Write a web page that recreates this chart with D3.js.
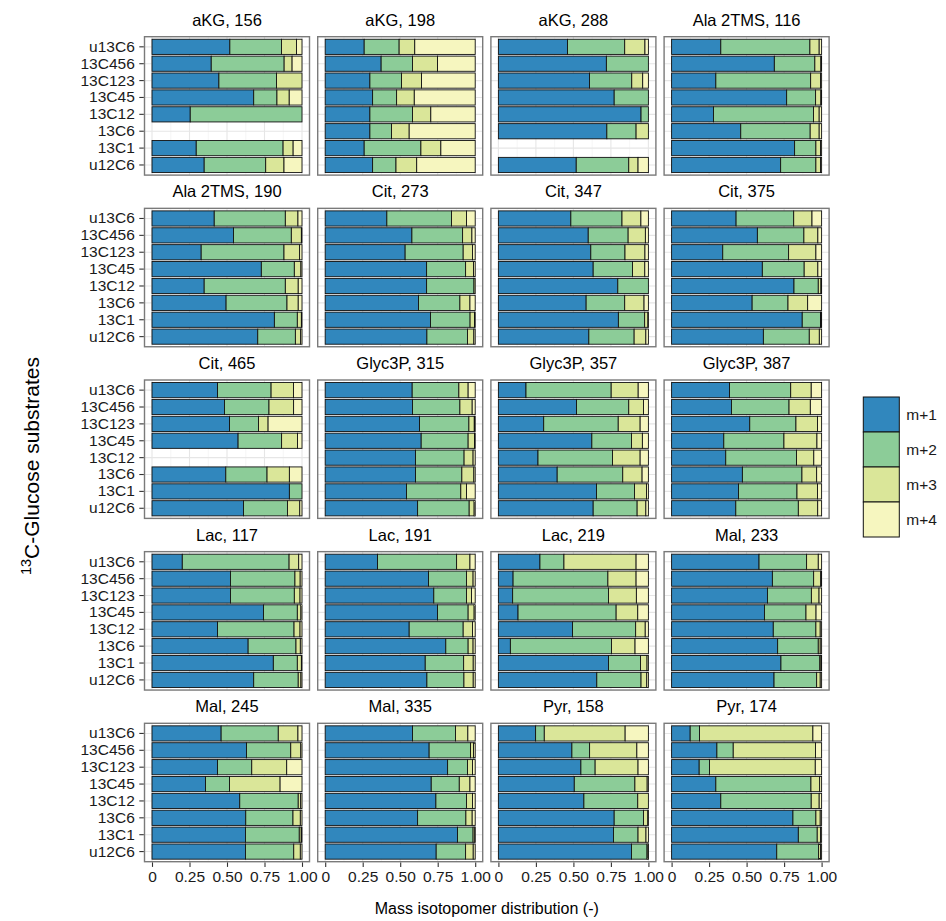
<!DOCTYPE html>
<html>
<head>
<meta charset="utf-8">
<script src="https://cdn.jsdelivr.net/npm/d3@7"></script>
<style>
  html, body { margin: 0; padding: 0; background: #fff; }
  svg { display: block; font-family: "Liberation Sans", Arial, Helvetica, sans-serif; }
</style>
</head>
<body>
<script>
// Labelling substrates, top to bottom in every panel
const categories = ["u13C6", "13C456", "13C123", "13C45", "13C12", "13C6", "13C1", "u12C6"];
const isotopomers = ["m+1", "m+2", "m+3", "m+4"];
const fills = ["#3187bd", "#8ccc98", "#dae699", "#f6f6bf"];
const xTickValues = [0, 0.25, 0.5, 0.75, 1];
const xTickLabels = ["0", "0.25", "0.50", "0.75", "1.00"];

// Fractions [m+1, m+2, m+3, m+4] per substrate (null = not measured)
const aKG_156 = [[0.519,0.344,0.100,0.037],[0.395,0.486,0.053,0.066],[0.446,0.384,0.170,0.000],[0.678,0.155,0.082,0.085],[0.255,0.745,0,0],null,[0.295,0.579,0.067,0.059],[0.348,0.410,0.122,0.120]];
const aKG_198 = [[0.260,0.233,0.104,0.403],[0.373,0.209,0.167,0.251],[0.298,0.211,0.133,0.358],[0.316,0.160,0.118,0.406],[0.298,0.284,0.122,0.296],[0.298,0.144,0.118,0.440],[0.260,0.378,0.133,0.229],[0.316,0.156,0.138,0.390]];
const aKG_288 = [[0.461,0.381,0.135,0.023],[0.720,0.280,0,0],[0.607,0.282,0.073,0.038],[0.772,0.228,0,0],[0.951,0.049,0,0],[0.723,0.195,0.082,0],null,[0.519,0.350,0.062,0.069]];
const Ala2TMS_116 = [[0.328,0.594,0.062,0.016],[0.685,0.270,0.040,0.005],[0.295,0.632,0.066,0.007],[0.767,0.193,0.035,0.005],[0.279,0.667,0.038,0.016],[0.461,0.463,0.060,0.016],[0.820,0.142,0.031,0.007],[0.727,0.235,0.031,0.007]];
const Ala2TMS_190 = [[0.415,0.474,0.084,0.027],[0.543,0.386,0.067,0.004],[0.328,0.552,0.104,0.016],[0.729,0.220,0.044,0.007],[0.348,0.541,0.086,0.025],[0.494,0.406,0.075,0.025],[0.816,0.153,0.027,0.004],[0.705,0.251,0.035,0.009]];
const Cit_273 = [[0.411,0.431,0.100,0.058],[0.578,0.338,0.062,0.022],[0.533,0.387,0.062,0.018],[0.676,0.260,0.053,0.011],[0.676,0.316,0.008,0],[0.622,0.276,0.067,0.035],[0.702,0.264,0.029,0.005],[0.678,0.271,0.042,0.009]];
const Cit_347 = [[0.483,0.341,0.126,0.050],[0.599,0.266,0.115,0.020],[0.616,0.228,0.133,0.023],[0.632,0.262,0.082,0.024],[0.796,0.204,0,0],[0.585,0.257,0.129,0.029],[0.800,0.175,0.022,0.003],[0.603,0.302,0.078,0.017]];
const Cit_375 = [[0.430,0.384,0.122,0.064],[0.572,0.310,0.093,0.025],[0.341,0.439,0.182,0.038],[0.605,0.279,0.091,0.025],[0.816,0.162,0.018,0.004],[0.537,0.239,0.131,0.093],[0.871,0.122,0.005,0.002],[0.612,0.306,0.067,0.015]];
const Cit_465 = [[0.437,0.357,0.149,0.057],[0.483,0.297,0.164,0.056],[0.517,0.193,0.064,0.226],[0.574,0.290,0.106,0.030],null,[0.492,0.275,0.149,0.084],[0.916,0.084,0,0],[0.610,0.293,0.082,0.015]];
const Glyc3P_315 = [[0.580,0.311,0.062,0.047],[0.582,0.316,0.082,0.020],[0.629,0.329,0.036,0.006],[0.640,0.313,0.042,0.005],[0.602,0.324,0.060,0.014],[0.602,0.309,0.080,0.009],[0.542,0.362,0.038,0.058],[0.616,0.344,0.033,0.007]];
const Glyc3P_357 = [[0.184,0.568,0.180,0.068],[0.521,0.348,0.098,0.033],[0.302,0.497,0.146,0.055],[0.623,0.264,0.073,0.040],[0.264,0.497,0.184,0.055],[0.392,0.437,0.129,0.042],[0.654,0.253,0.080,0.013],[0.632,0.293,0.058,0.017]];
const Glyc3P_387 = [[0.386,0.408,0.137,0.069],[0.399,0.384,0.142,0.075],[0.521,0.308,0.144,0.027],[0.348,0.401,0.220,0.031],[0.361,0.472,0.115,0.052],[0.472,0.397,0.098,0.033],[0.446,0.390,0.137,0.027],[0.428,0.417,0.129,0.026]];
const Lac_117 = [[0.202,0.712,0.064,0.022],[0.523,0.430,0.035,0.012],[0.523,0.426,0.038,0.013],[0.743,0.226,0.024,0.007],[0.437,0.510,0.040,0.013],[0.641,0.319,0.029,0.011],[0.809,0.160,0.027,0.004],[0.678,0.297,0.018,0.007]];
const Lac_191 = [[0.349,0.527,0.089,0.035],[0.689,0.253,0.044,0.014],[0.724,0.218,0.033,0.025],[0.749,0.204,0.040,0.007],[0.560,0.360,0.062,0.018],[0.804,0.149,0.033,0.014],[0.667,0.256,0.064,0.013],[0.678,0.247,0.062,0.013]];
const Lac_219 = [[0.277,0.160,0.481,0.082],[0.098,0.632,0.188,0.082],[0.095,0.639,0.186,0.080],[0.131,0.654,0.144,0.071],[0.494,0.421,0.064,0.021],[0.080,0.674,0.157,0.089],[0.734,0.213,0.044,0.009],[0.656,0.295,0.038,0.011]];
const Mal_233 = [[0.583,0.317,0.078,0.022],[0.672,0.275,0.047,0.006],[0.639,0.293,0.051,0.017],[0.619,0.277,0.067,0.037],[0.678,0.284,0.029,0.009],[0.707,0.271,0.013,0.009],[0.729,0.259,0.008,0.004],[0.683,0.284,0.024,0.009]];
const Mal_245 = [[0.461,0.381,0.131,0.027],[0.630,0.295,0.067,0.008],[0.437,0.228,0.233,0.102],[0.357,0.160,0.337,0.146],[0.585,0.390,0.016,0.009],[0.625,0.315,0.049,0.011],[0.623,0.359,0.013,0.005],[0.623,0.322,0.044,0.011]];
const Mal_335 = [[0.582,0.287,0.082,0.049],[0.693,0.276,0.020,0.011],[0.816,0.133,0.033,0.018],[0.707,0.187,0.071,0.035],[0.738,0.204,0.040,0.018],[0.616,0.322,0.042,0.020],[0.882,0.104,0.011,0.003],[0.740,0.196,0.051,0.013]];
const Pyr_158 = [[0.248,0.058,0.539,0.155],[0.490,0.118,0.315,0.077],[0.550,0.095,0.286,0.069],[0.506,0.404,0.082,0.008],[0.570,0.359,0.071,0],[0.772,0.195,0.029,0.004],[0.767,0.164,0.053,0.016],[0.887,0.104,0.007,0.002]];
const Pyr_174 = [[0.124,0.062,0.756,0.058],[0.302,0.109,0.548,0.041],[0.184,0.069,0.705,0.042],[0.295,0.634,0.058,0.013],[0.328,0.603,0.053,0.016],[0.809,0.153,0.029,0.009],[0.845,0.126,0.022,0.007],[0.701,0.279,0.013,0.007]];

const facetTitles = ["aKG, 156", "aKG, 198", "aKG, 288", "Ala 2TMS, 116",
  "Ala 2TMS, 190", "Cit, 273", "Cit, 347", "Cit, 375",
  "Cit, 465", "Glyc3P, 315", "Glyc3P, 357", "Glyc3P, 387",
  "Lac, 117", "Lac, 191", "Lac, 219", "Mal, 233",
  "Mal, 245", "Mal, 335", "Pyr, 158", "Pyr, 174"];
const facetValues = [aKG_156, aKG_198, aKG_288, Ala2TMS_116,
  Ala2TMS_190, Cit_273, Cit_347, Cit_375,
  Cit_465, Glyc3P_315, Glyc3P_357, Glyc3P_387,
  Lac_117, Lac_191, Lac_219, Mal_233,
  Mal_245, Mal_335, Pyr_158, Pyr_174];

// ---- layout ----
const W = 946, H = 921;
const nCols = 4, nRows = 5;
const panelW = 165, panelH = 138.4;
const left0 = 144.5, top0 = 36.7;
const colStep = 173.2, rowStep = 171.65;

const svg = d3.select("body").append("svg").attr("width", W).attr("height", H);

const x = d3.scaleLinear().domain([-0.05, 1.05]).range([0, panelW]);
const y = d3.scaleBand().domain(categories).range([0, panelH])
  .paddingInner(0.1).paddingOuter(0.15);
const color = d3.scaleOrdinal().domain(isotopomers).range(fills);
const stack = d3.stack().keys(isotopomers);
const minorBreaks = [0.125, 0.375, 0.625, 0.875];

facetTitles.forEach((title, i) => {
  const col = i % nCols, row = Math.floor(i / nCols);
  const g = svg.append("g")
    .attr("transform", `translate(${left0 + col * colStep},${top0 + row * rowStep})`);

  g.append("rect").attr("width", panelW).attr("height", panelH).attr("fill", "#fff");

  // grid
  g.selectAll(".minor").data(minorBreaks).join("line")
    .attr("x1", d => x(d)).attr("x2", d => x(d))
    .attr("y1", 0).attr("y2", panelH)
    .attr("stroke", "#f2f2f2").attr("stroke-width", 0.7);
  g.selectAll(".vmajor").data(xTickValues).join("line")
    .attr("x1", d => x(d)).attr("x2", d => x(d))
    .attr("y1", 0).attr("y2", panelH)
    .attr("stroke", "#e6e6e6").attr("stroke-width", 1.1);
  g.selectAll(".hmajor").data(categories).join("line")
    .attr("x1", 0).attr("x2", panelW)
    .attr("y1", d => y(d) + y.bandwidth() / 2).attr("y2", d => y(d) + y.bandwidth() / 2)
    .attr("stroke", "#e6e6e6").attr("stroke-width", 1.1);

  // stacked bars
  const rows = [];
  facetValues[i].forEach((v, k) => {
    if (!v) return;
    const r = { cat: categories[k] };
    isotopomers.forEach((m, j) => { r[m] = v[j]; });
    rows.push(r);
  });
  const layers = stack(rows);
  g.selectAll(".layer").data(layers).join("g")
    .attr("fill", d => color(d.key))
    .selectAll("rect").data(d => d.filter(s => s[1] - s[0] > 0)).join("rect")
    .attr("x", s => x(s[0]))
    .attr("width", s => x(s[1]) - x(s[0]))
    .attr("y", s => y(s.data.cat))
    .attr("height", y.bandwidth())
    .attr("stroke", "#111").attr("stroke-width", 0.9);

  // panel border
  g.append("rect").attr("width", panelW).attr("height", panelH)
    .attr("fill", "none").attr("stroke", "#7a7a7a").attr("stroke-width", 1.4);

  // strip title
  g.append("text").attr("x", panelW / 2).attr("y", -11)
    .attr("text-anchor", "middle").attr("font-size", 16.5).attr("fill", "#000")
    .text(title);

  if (col === 0) {
    const ax = g.append("g").attr("transform", "translate(-0.7,0)")
      .call(d3.axisLeft(y).tickSize(4.5).tickPadding(4.5));
    ax.select(".domain").remove();
    ax.selectAll(".tick line").attr("stroke", "#333").attr("stroke-width", 1.1);
    ax.selectAll(".tick text").attr("font-size", 15.5).attr("fill", "#1a1a1a")
      .attr("font-family", "Liberation Sans, Arial, sans-serif");
  }
  if (row === nRows - 1) {
    const ax = g.append("g").attr("transform", `translate(0,${panelH + 0.7})`)
      .call(d3.axisBottom(x).tickValues(xTickValues)
        .tickFormat((d, k) => xTickLabels[k]).tickSize(4.5).tickPadding(4));
    ax.select(".domain").remove();
    ax.selectAll(".tick line").attr("stroke", "#333").attr("stroke-width", 1.1);
    ax.selectAll(".tick text").attr("font-size", 15.5).attr("fill", "#1a1a1a")
      .attr("font-family", "Liberation Sans, Arial, sans-serif");
  }
});

// axis titles
const panelsRight = left0 + (nCols - 1) * colStep + panelW;
svg.append("text")
  .attr("x", (left0 + panelsRight) / 2).attr("y", 914)
  .attr("text-anchor", "middle").attr("font-size", 16).attr("fill", "#000")
  .text("Mass isotopomer distribution (-)");

const yTitle = svg.append("text")
  .attr("transform", "translate(39,466) rotate(-90)")
  .attr("text-anchor", "middle").attr("font-size", 21).attr("fill", "#000");
yTitle.append("tspan").attr("font-size", 14.5).attr("dy", -8).text("13");
yTitle.append("tspan").attr("dy", 8).text("C-Glucose substrates");

// legend
const keyW = 36, keyH = 35, legX = 863.3, legY = 397;
const leg = svg.append("g").attr("transform", `translate(${legX},${legY})`);
isotopomers.forEach((m, k) => {
  leg.append("rect").attr("x", 0).attr("y", k * keyH)
    .attr("width", keyW).attr("height", keyH)
    .attr("fill", color(m)).attr("stroke", "#111").attr("stroke-width", 1);
  leg.append("text").attr("x", keyW + 7).attr("y", k * keyH + keyH / 2)
    .attr("dy", "0.35em").attr("font-size", 15.5).attr("fill", "#1a1a1a")
    .text(m);
});
</script>
</body>
</html>
